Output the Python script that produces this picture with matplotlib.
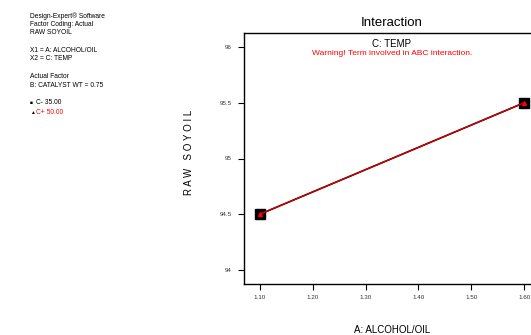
import numpy as np
import matplotlib.pyplot as plt

plt.rcParams['font.family'] = ['Liberation Sans', 'DejaVu Sans']

# 数据
alcohol_oil = [1.10, 1.60]
temp_low = [94.5, 95.5]   # C- 35.00
temp_high = [94.5, 95.5]  # C+ 50.00
x_ticks = [1.10, 1.20, 1.30, 1.40, 1.50, 1.60]
x_tick_labels = ['1.10', '1.20', '1.30', '1.40', '1.50', '1.60']
y_ticks = [94, 94.5, 95, 95.5, 96]
y_tick_labels = ['94', '94.5', '95', '95.5', '96']

info_lines = [
    (16, 'Design-Expert® Software'),
    (24, 'Factor Coding: Actual'),
    (32, 'RAW SOYOIL'),
    (50, 'X1 = A: ALCOHOL/OIL'),
    (58, 'X2 = C: TEMP'),
    (76, 'Actual Factor'),
    (85, 'B: CATALYST WT = 0.75'),
]

W, H = 531, 335
fig = plt.figure(figsize=(W / 100, H / 100), dpi=100)
ax = fig.add_axes([244 / W, 1 - 284 / H, (540 - 244) / W, (284 - 33) / H])

ax.plot(alcohol_oil, temp_low, color='black', lw=1.2, marker='s', ms=6.5,
        mfc='black', mec='black', zorder=3)
ax.plot(alcohol_oil, temp_high, color='#d40000', lw=1.0, marker='^', ms=2.8,
        mfc='red', mec='red', zorder=4)

ax.set_xlim(1.07, 1.63)
ax.set_ylim(93.874, 96.126)
ax.set_xticks(x_ticks)
ax.set_xticklabels(x_tick_labels)
ax.set_yticks(y_ticks)
ax.set_yticklabels(y_tick_labels)
ax.tick_params(axis='both', direction='out', length=4, width=0.8,
               labelsize=4.5, labelcolor='#333333')
ax.tick_params(axis='x', pad=4)
ax.tick_params(axis='y', pad=5)
for sp in ax.spines.values():
    sp.set_linewidth(1.0)

ax.set_title('Interaction', fontsize=9.5, pad=5)
ax.text(0.5, 0.958, 'C: TEMP', transform=ax.transAxes, ha='center', va='center',
        fontsize=7)
ax.text(0.5, 0.918, 'Warning! Term involved in ABC interaction.', transform=ax.transAxes,
        ha='center', va='center', fontsize=6, color='red')

fig.text(392 / W, 1 - 330 / H, 'A: ALCOHOL/OIL', ha='center', va='center', fontsize=7)
fig.text(189 / W, 1 - 152 / H, 'R A W   S O Y O I L', rotation=90, ha='center',
         va='center', fontsize=7)

# 左侧说明文字
for y, s in info_lines:
    fig.text(30 / W, 1 - y / H, s, ha='left', va='center', fontsize=4.8)
fig.text(30 / W, 1 - 103 / H, '■', ha='left', va='center', fontsize=3.5)
fig.text(36 / W, 1 - 103 / H, 'C- 35.00', ha='left', va='center', fontsize=4.8)
fig.text(30 / W, 1 - 112 / H, '▲', ha='left', va='center', fontsize=3.5)
fig.text(36 / W, 1 - 112 / H, 'C+ 50.00', ha='left', va='center', fontsize=4.8,
         color='red')

fig.savefig('out.png', dpi=100)
